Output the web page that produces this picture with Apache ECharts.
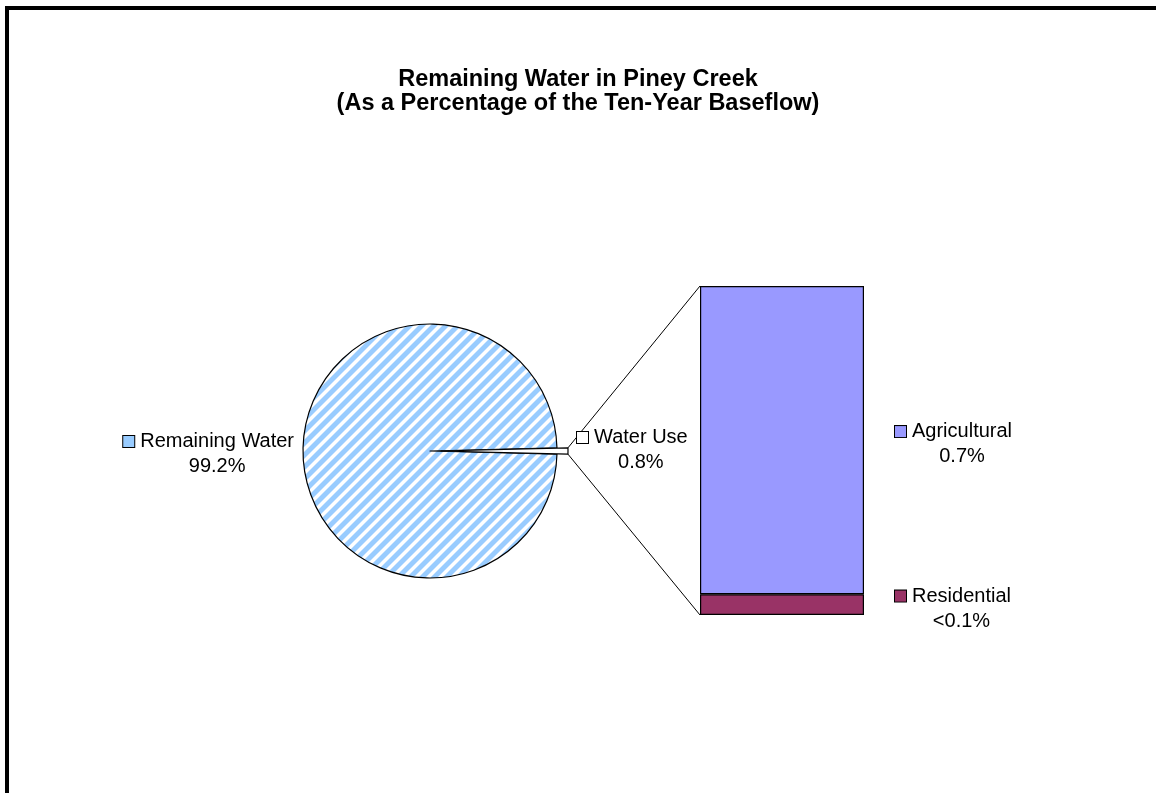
<!DOCTYPE html>
<html>
<head>
<meta charset="utf-8">
<script src="https://cdn.jsdelivr.net/npm/echarts@6/dist/echarts.min.js"></script>
<style>
  html, body { margin: 0; padding: 0; background: #fff; }
  #chart { width: 1156px; height: 793px; }
</style>
</head>
<body>
<div id="chart"></div>
<script>
// ---- data -------------------------------------------------------------
const titleLines = ['Remaining Water in Piney Creek', '(As a Percentage of the Ten-Year Baseflow)'];
const pieNames = ['Water Use', 'Remaining Water'];
const remainingValue = 99.21;          // % of ten-year baseflow left in the creek
const useNames = ['Residential', 'Agricultural'];   // bottom to top in the breakdown bar
const useValues = [0.05, 0.74];        // % of ten-year baseflow withdrawn
const waterUse = useValues.reduce((a, b) => a + b, 0);

// ---- layout / style ---------------------------------------------------
const FONT = '"Liberation Sans", Arial, sans-serif';
const CX = 430, CY = 451, R = 127, OFFSET = 11;
const BAR = { left: 700, top: 286, width: 164, height: 329 };
const COLORS = { remaining: '#99ccff', use: '#ffffff', Agricultural: '#9999ff', Residential: '#993366' };

// diagonal-stripe fill for the remaining-water slice
function stripeTile(size, band, color) {
  const c = document.createElement('canvas');
  c.width = size; c.height = size;
  const g = c.getContext('2d');
  g.fillStyle = '#ffffff';
  g.fillRect(0, 0, size, size);
  g.fillStyle = color;
  for (let k = -1; k <= 2; k++) {
    const o = k * size;
    g.beginPath();
    g.moveTo(o, 0); g.lineTo(o + band, 0);
    g.lineTo(0, o + band); g.lineTo(0, o);
    g.closePath(); g.fill();
  }
  return c;
}
const stripes = { image: stripeTile(12, 7, COLORS.remaining), repeat: 'repeat' };

const fmtPct = v => (v < 0.1 ? '<0.1' : v.toFixed(1)) + '%';

function richFor(boxColor) {
  return {
    box: { width: 11, height: 11, backgroundColor: boxColor, borderColor: '#000', borderWidth: 1 },
    name: { fontFamily: FONT, fontSize: 20, color: '#000', padding: [0, 0, 0, 6], lineHeight: 25 },
    val: { fontFamily: FONT, fontSize: 20, color: '#000', padding: [0, 0, 0, 17], align: 'center', lineHeight: 25 }
  };
}
const pieLabel = p => '{box|}{name|' + p.name + '}\n{val|' + fmtPct(p.value) + '}';
const hidden = { itemStyle: { color: 'transparent', borderWidth: 0 }, label: { show: false } };

const chart = echarts.init(document.getElementById('chart'), null, { renderer: 'canvas' });

const useAngle = waterUse / (waterUse + remainingValue) * 360;

// shared pie settings; the water-use slice is drawn by a second, shifted pie
const pieBase = {
  type: 'pie',
  radius: R,
  startAngle: useAngle / 2,
  clockwise: true,
  avoidLabelOverlap: false,
  silent: true,
  emphasis: { disabled: true },
  itemStyle: { borderColor: '#000', borderWidth: 1.2 },
  labelLine: { show: false },
  label: { show: true, position: 'outside', formatter: pieLabel }
};

chart.setOption({
  animation: false,
  backgroundColor: '#fff',
  title: {
    text: titleLines.join('\n'),
    left: 'center',
    top: 63,
    textStyle: { fontFamily: FONT, fontSize: 23.5, fontWeight: 'bold', color: '#000', lineHeight: 24 }
  },
  grid: { left: BAR.left, top: BAR.top, width: BAR.width, height: BAR.height },
  xAxis: { type: 'category', data: ['Water Use'], show: false },
  yAxis: { type: 'value', min: 0, max: waterUse, show: false },
  series: [
    Object.assign({}, pieBase, {
      center: [CX, CY],
      labelLayout: () => ({ x: CX - R - 9, y: CY + 3, align: 'right', verticalAlign: 'middle' }),
      data: [
        Object.assign({ name: pieNames[0], value: waterUse }, hidden),
        { name: pieNames[1], value: remainingValue,
          itemStyle: { color: stripes },
          label: { rich: richFor(COLORS.remaining) } }
      ]
    }),
    Object.assign({}, pieBase, {
      center: [CX + OFFSET, CY],
      labelLayout: () => ({ x: CX + R + OFFSET + 9, y: CY - 1, align: 'left', verticalAlign: 'middle' }),
      data: [
        { name: pieNames[0], value: waterUse,
          itemStyle: { color: COLORS.use },
          label: { rich: richFor(COLORS.use) } },
        Object.assign({ name: pieNames[1], value: remainingValue }, hidden)
      ]
    }),
    ...useNames.map((n, i) => ({
      type: 'bar',
      name: n,
      stack: 'use',
      barWidth: '100%',
      silent: true,
      emphasis: { disabled: true },
      itemStyle: { color: COLORS[n], borderColor: '#000', borderWidth: 1.2 },
      label: {
        show: true,
        position: 'right',
        distance: 31,
        offset: [0, 4],
        formatter: p => '{box|}{name|' + p.seriesName + '}\n{val|' + fmtPct(p.value) + '}',
        rich: richFor(COLORS[n])
      },
      data: [useValues[i]]
    }))
  ]
});

// connector lines from the exploded slice to the ends of the breakdown bar
const half = useAngle / 2 * Math.PI / 180;
const tipX = CX + OFFSET + R * Math.cos(half);
const tipTop = CY - R * Math.sin(half);
const tipBot = CY + R * Math.sin(half);
const barTop = chart.convertToPixel({ gridIndex: 0 }, ['Water Use', waterUse]);
const barBot = chart.convertToPixel({ gridIndex: 0 }, ['Water Use', 0]);
const barLeft = barTop[0] - BAR.width / 2;

chart.setOption({
  graphic: [
    { type: 'line', silent: true, z: 0,
      shape: { x1: tipX, y1: tipTop, x2: barLeft, y2: barTop[1] },
      style: { stroke: '#000', lineWidth: 1 } },
    { type: 'line', silent: true, z: 0,
      shape: { x1: tipX, y1: tipBot, x2: barLeft, y2: barBot[1] },
      style: { stroke: '#000', lineWidth: 1 } },
    { type: 'rect', silent: true, z: 100,
      shape: { x: 7, y: 8, width: 1160, height: 800 },
      style: { fill: 'none', stroke: '#000', lineWidth: 4 } }
  ]
});
</script>
</body>
</html>
